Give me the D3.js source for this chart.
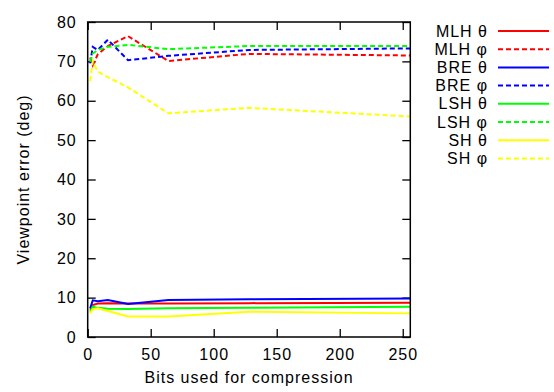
<!DOCTYPE html>
<html>
<head>
<meta charset="utf-8">
<script src="https://cdn.jsdelivr.net/npm/d3@7"></script>
<style>
  body { margin: 0; background: #fff; }
  text { font-family: "Liberation Sans", Arial, sans-serif; font-size: 16px; fill: #000; letter-spacing: 1px; }
</style>
</head>
<body>
<div id="chart"></div>
<script>
// Bits used (x) and viewpoint error per method (deg)
const bits = [2, 4, 8, 16, 32, 64, 128, 256];
const mlhTheta = [6.9, 8.1, 8.5, 8.6, 8.5, 8.5, 8.6, 8.7];
const mlhPhi   = [71.0, 69.0, 71.8, 73.9, 76.4, 70.1, 71.9, 71.5];
const breTheta = [7.3, 9.3, 9.1, 9.4, 8.4, 9.4, 9.6, 9.8];
const brePhi   = [69.5, 73.7, 72.9, 75.5, 70.3, 71.4, 72.9, 73.3];
const lshTheta = [6.4, 7.7, 7.4, 7.2, 7.1, 7.3, 7.4, 7.7];
const lshPhi   = [69.9, 72.0, 72.9, 73.7, 74.2, 73.1, 73.9, 73.9];
const shTheta  = [6.0, 7.1, 7.3, 6.6, 5.2, 5.2, 6.4, 6.0];
const shPhi    = [65.0, 70.0, 67.4, 66.0, 63.4, 56.8, 58.2, 56.0];

const seriesNames = ["MLH \u03b8", "MLH \u03c6", "BRE \u03b8", "BRE \u03c6", "LSH \u03b8", "LSH \u03c6", "SH \u03b8", "SH \u03c6"];
const seriesValues = [mlhTheta, mlhPhi, breTheta, brePhi, lshTheta, lshPhi, shTheta, shPhi];
const colors = ["#ff0000", "#ff0000", "#0000ff", "#0000ff", "#00ff00", "#00ff00", "#ffff00", "#ffff00"];
const xTicks = [0, 50, 100, 150, 200, 250];
const yTicks = [0, 10, 20, 30, 40, 50, 60, 70, 80];

const width = 554, height = 392;
const margin = { top: 22, right: 143.7, bottom: 55, left: 87.7 };
const w = width - margin.left - margin.right;
const h = height - margin.top - margin.bottom;

const x = d3.scaleLinear().domain([0, 256]).range([0, w]);
const y = d3.scaleLinear().domain([0, 80]).range([h, 0]);

const svg = d3.select("#chart").append("svg")
  .attr("width", width)
  .attr("height", height);

const g = svg.append("g")
  .attr("transform", `translate(${margin.left},${margin.top})`);

// inward ticks on all four sides (gnuplot style)
const tickLen = 8;
g.append("g").attr("transform", `translate(0,${h})`)
  .call(d3.axisBottom(x).tickValues(xTicks).tickSize(-tickLen).tickPadding(12))
  .call(a => a.select(".domain").remove());
g.append("g")
  .call(d3.axisTop(x).tickValues(xTicks).tickSize(-tickLen).tickFormat(""))
  .call(a => a.select(".domain").remove());
g.append("g")
  .call(d3.axisLeft(y).tickValues(yTicks).tickSize(-tickLen).tickPadding(11))
  .call(a => a.select(".domain").remove());
g.append("g").attr("transform", `translate(${w},0)`)
  .call(d3.axisRight(y).tickValues(yTicks).tickSize(-tickLen).tickFormat(""))
  .call(a => a.select(".domain").remove());

g.selectAll(".tick line").attr("stroke", "#000").attr("stroke-width", 1.3);
g.selectAll(".tick text").style("font-size", "16px").attr("fill", "#000");

// lines
const line = d3.line()
  .x((d, i) => x(bits[i]))
  .y(d => y(d));

g.selectAll(".series")
  .data(seriesValues)
  .join("path")
  .attr("class", "series")
  .attr("fill", "none")
  .attr("stroke", (d, i) => colors[i])
  .attr("stroke-width", 2)
  .attr("stroke-dasharray", (d, i) => i % 2 ? "5,3" : null)
  .attr("d", line);

// plot border
g.append("rect")
  .attr("width", w)
  .attr("height", h)
  .attr("fill", "none")
  .attr("stroke", "#000")
  .attr("stroke-width", 1.5);

// axis titles
svg.append("text")
  .attr("x", margin.left + w / 2)
  .attr("y", 383)
  .attr("text-anchor", "middle")
  .text("Bits used for compression");

svg.append("text")
  .attr("transform", `translate(29,${margin.top + h / 2}) rotate(-90)`)
  .attr("text-anchor", "middle")
  .text("Viewpoint error (deg)");

// legend
const legend = svg.append("g").selectAll("g")
  .data(seriesNames)
  .join("g")
  .attr("transform", (d, i) => `translate(0,${31 + i * 18.2})`);

legend.append("text")
  .attr("x", 488)
  .attr("dy", "0.35em")
  .attr("text-anchor", "end")
  .text(d => d);

legend.append("line")
  .attr("x1", 498)
  .attr("x2", 549)
  .attr("stroke", (d, i) => colors[i])
  .attr("stroke-width", 2)
  .attr("stroke-dasharray", (d, i) => i % 2 ? "5,3" : null);
</script>
</body>
</html>
